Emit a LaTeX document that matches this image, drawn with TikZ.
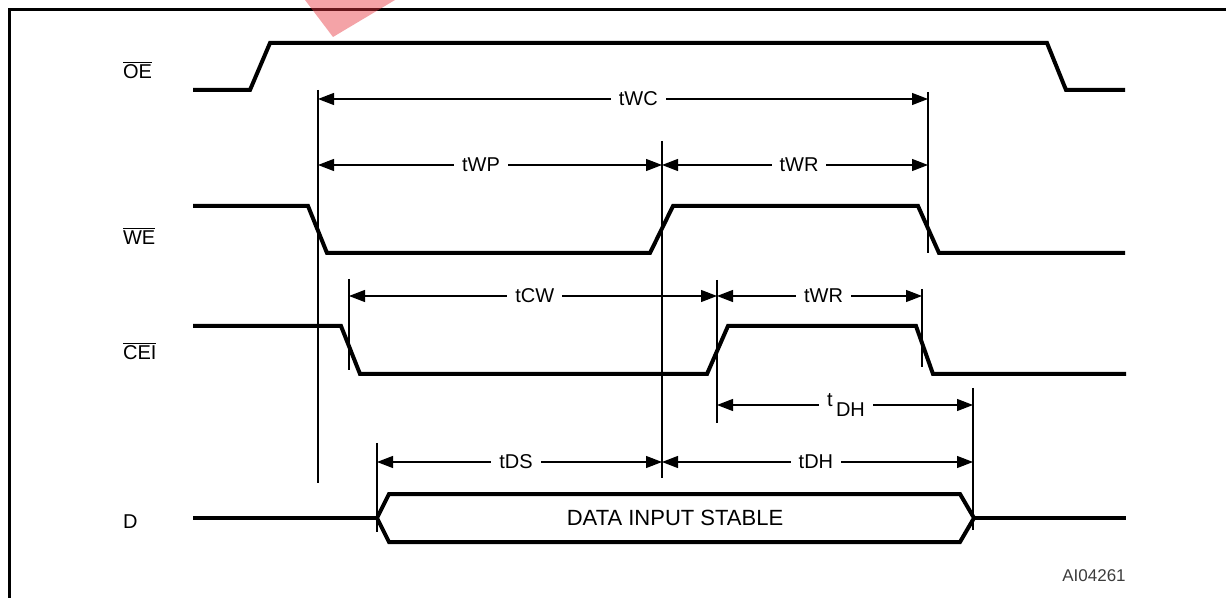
\documentclass[tikz,border=0pt]{standalone}
\usepackage{fontspec}
\setmainfont{Liberation Sans}
\usetikzlibrary{arrows.meta}
\definecolor{stamp}{RGB}{230,50,60}
\definecolor{code}{RGB}{60,60,60}
\newcommand{\ovl}[1]{$\overline{\mbox{#1}}$}
\tikzset{
  sig/.style={line width=2pt, line join=miter},
  guide/.style={line width=0.6pt},
  dim/.style={line width=0.6pt, {Triangle[length=8pt,width=6pt]}-{Triangle[length=8pt,width=6pt]}},
  gap/.style={fill=white, inner xsep=4pt, inner ysep=1pt},
  siglabel/.style={anchor=base west},
}

\begin{document}
\begin{tikzpicture}[x=0.5pt,y=-0.5pt]
\useasboundingbox (0,0) rectangle (1226,598);
% frame and stamp
\draw[line width=1.5pt] (9,598) -- (9,10) -- (1226,10);
\fill[stamp, opacity=0.45] (305,0) -- (395,0) -- (333,37) -- cycle;

% signal names
\node[siglabel] (oe) at (116,79) {\ovl{OE}};
\node[siglabel] (we) at (116,245) {\ovl{WE}};
\node[siglabel] (cei) at (116,360) {\ovl{CEI}};
\node[siglabel] (d) at (116,528) {D};

% waveforms
\draw[sig] (193,90) -- (250,90) -- (270,43) -- (1047,43) -- (1066,90) -- (1125,90);
\draw[sig] (193,206) -- (308,206) -- (327,253) -- (650,253) -- (673,206) -- (918,206) -- (939,253) -- (1125,253);
\draw[sig] (193,326) -- (341,326) -- (360,374) -- (707,374) -- (728,326) -- (916,326) -- (933,374) -- (1126,374);
\draw[sig] (193,518) -- (377,518);
\draw[sig] (377,518) -- (389,494) -- (960,494) -- (974,518) -- (960,542) -- (389,542) -- cycle;
\draw[sig] (974,518) -- (1126,518);
\node[font=\fontsize{11}{13}\selectfont] (data) at (675,518) {DATA INPUT STABLE};

% guide lines
\foreach \n/\x/\a/\b in {ws/318/90/483, wr/662/141/478, wc/928/92/253, cs/349/279/370,
                         cr/717/280/423, ce/922/289/367, dh/973/388/530, ds/377/443/532} {
  \coordinate (\n t) at (\x,\a);
  \coordinate (\n b) at (\x,\b);
  \draw[guide] (\n t) -- (\n b);
}

% timings
\draw[dim] (wst |- 0,99) -- (wct |- 0,99) node[gap, pos=0.525] (twc) {tWC};
\draw[dim] (wst |- 0,165) -- (wrt |- 0,165) node[gap, pos=0.474] (twp) {tWP};
\draw[dim] (wrt |- 0,165) -- (wct |- 0,165) node[gap, pos=0.515] (twr) {tWR};
\draw[dim] (cst |- 0,296) -- (crt |- 0,296) node[gap, pos=0.505] (tcw) {tCW};
\draw[dim] (crt |- 0,296) -- (cet |- 0,296) node[gap, pos=0.52] (twrc) {tWR};
\draw[dim] (crt |- 0,405) -- (dht |- 0,405) node[gap, pos=0.504] (tdhc) {t\,\raisebox{-5pt}{DH}};
\draw[dim] (dst |- 0,462) -- (wrt |- 0,462) node[gap, pos=0.488] (tds) {tDS};
\draw[dim] (wrt |- 0,462) -- (dht |- 0,462) node[gap, pos=0.495] (tdh) {tDH};

\node[text=code, font=\fontsize{8.5}{10}\selectfont] (fig) at (1094,576) {AI04261};
\end{tikzpicture}
\end{document}
